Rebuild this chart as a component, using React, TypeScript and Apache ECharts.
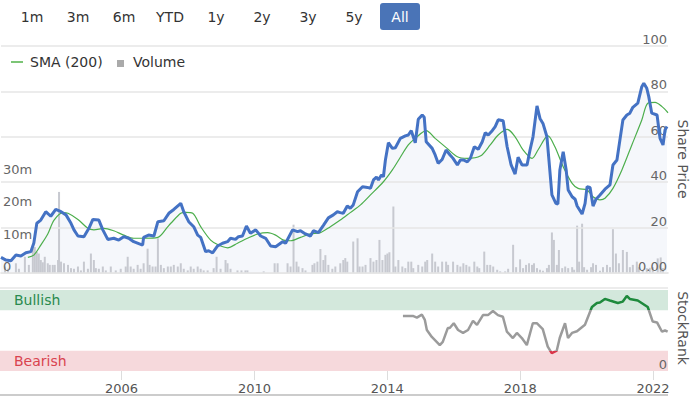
import { useEffect, useRef } from 'react';
import * as echarts from 'echarts';

const FONT = 'DejaVu Sans';

const rangeButtons = ['1m', '3m', '6m', 'YTD', '1y', '2y', '3y', '5y', 'All'];
const activeButton = 'All';
const yearTicks = [2006, 2010, 2014, 2018, 2022];
const xMin = 2002.34;
const xMax = 2022.45;

const priceYears = [
  2002.34, 2002.49, 2002.64, 2002.79, 2002.94, 2003.09, 2003.24, 2003.33, 2003.42, 2003.54,
  2003.69, 2003.84, 2003.99, 2004.15, 2004.30, 2004.45, 2004.54, 2004.66, 2004.84, 2004.99,
  2005.11, 2005.29, 2005.41, 2005.56, 2005.74, 2005.89, 2006.04, 2006.19, 2006.34, 2006.61,
  2006.64, 2006.79, 2006.95, 2007.07, 2007.25, 2007.40, 2007.55, 2007.76, 2007.85, 2008.00,
  2008.15, 2008.27, 2008.36, 2008.51, 2008.60, 2008.72, 2008.87, 2009.02, 2009.17, 2009.26,
  2009.41, 2009.50, 2009.62, 2009.74, 2009.86, 2010.02, 2010.17, 2010.32, 2010.47, 2010.62,
  2010.83, 2010.92, 2011.13, 2011.28, 2011.37, 2011.52, 2011.67, 2011.76, 2011.91, 2012.06,
  2012.21, 2012.36, 2012.48, 2012.57, 2012.66, 2012.78, 2012.87, 2012.96, 2013.09, 2013.24,
  2013.39, 2013.48, 2013.57, 2013.66, 2013.72, 2013.81, 2013.87, 2013.93, 2014.02, 2014.14,
  2014.23, 2014.38, 2014.53, 2014.62, 2014.71, 2014.83, 2014.92, 2015.04, 2015.10, 2015.16,
  2015.34, 2015.43, 2015.52, 2015.64, 2015.76, 2015.88, 2015.97, 2016.10, 2016.19, 2016.28,
  2016.40, 2016.49, 2016.61, 2016.73, 2016.85, 2016.94, 2017.03, 2017.15, 2017.24, 2017.33,
  2017.48, 2017.60, 2017.72, 2017.84, 2017.93, 2018.05, 2018.20, 2018.29, 2018.38, 2018.50,
  2018.59, 2018.68, 2018.80, 2018.86, 2018.95, 2019.07, 2019.13, 2019.19, 2019.29, 2019.38,
  2019.44, 2019.56, 2019.65, 2019.71, 2019.86, 2019.95, 2020.01, 2020.10, 2020.19, 2020.28,
  2020.40, 2020.55, 2020.70, 2020.79, 2020.91, 2021.00, 2021.09, 2021.21, 2021.30, 2021.39,
  2021.54, 2021.66, 2021.72, 2021.81, 2021.87, 2021.96, 2022.12, 2022.21, 2022.30, 2022.36,
  2022.42,
];
const priceValues = [
  6.9, 5.7, 5.4, 7.9, 7.5, 8.9, 9.4, 13.2, 21.9, 23.3,
  27, 25, 28, 27, 25.6, 21.9, 19, 16.3, 16, 19.7,
  23.6, 23.3, 19, 14.8, 15.3, 14.5, 16, 15.3, 13.8, 12.3,
  15.7, 16.7, 16.3, 22.6, 23, 26.3, 28, 30.7, 27, 22.6,
  20.4, 16.7, 15.7, 9.4, 9.8, 8.9, 11.9, 13.1, 13.8, 15.3,
  14.8, 16, 16.3, 20.7, 17.5, 19, 16.3, 15.3, 11.9, 11.6,
  13.8, 13.1, 19, 18.2, 18.6, 17.2, 16.3, 18.6, 17.8, 21,
  24.3, 25.6, 27, 26.6, 26.3, 29.5, 28.5, 30, 35.8, 38,
  37.7, 37.3, 41, 42.2, 41, 43.2, 42.4, 49.8, 57.4, 54.9,
  55.2, 59.3, 60.4, 60.8, 62.7, 57.4, 67.7, 69.6, 68.6, 57.8,
  54.9, 52, 48.3, 50, 54.2, 52, 50.5, 47.6, 49.8, 49.8,
  49, 50.5, 55.6, 54.5, 57.8, 61.8, 60.8, 62.7, 64.5, 67.5,
  67.1, 55.6, 47.6, 43.6, 51, 47.6, 47.6, 54.2, 60, 73.6,
  68.1, 65.9, 60, 49.8, 34.4, 30.7, 30.4, 45.4, 53.4, 45.4,
  36.6, 33.6, 32.5, 29.5, 26, 30.7, 38, 37.7, 29.5, 32.5,
  34.4, 36.9, 38.8, 47.6, 49.8, 58.6, 67.4, 69.6, 70.4, 73,
  74.8, 82.1, 83.6, 81.4, 77.7, 70.4, 69.6, 59.3, 56.4, 63,
  64.5,
];

const smaYears = [
  2003.15, 2003.33, 2003.54, 2003.75, 2003.94, 2004.21, 2004.36, 2004.66, 2004.96, 2005.14,
  2005.44, 2005.74, 2006.04, 2006.34, 2006.64, 2007.07, 2007.37, 2007.46, 2007.76, 2007.91,
  2008.12, 2008.36, 2008.66, 2008.90, 2009.17, 2009.47, 2009.77, 2010.08, 2010.38, 2010.62,
  2010.86, 2011.07, 2011.37, 2011.67, 2011.97, 2012.27, 2012.57, 2012.87, 2013.18, 2013.48,
  2013.87, 2014.14, 2014.38, 2014.62, 2014.83, 2015.16, 2015.43, 2015.79, 2016.10, 2016.40,
  2016.79, 2017.09, 2017.33, 2017.60, 2017.84, 2018.08, 2018.35, 2018.53, 2018.74, 2018.83,
  2019.04, 2019.29, 2019.56, 2019.74, 2020.01, 2020.19, 2020.40, 2020.55, 2020.79, 2021.06,
  2021.36, 2021.66, 2021.84, 2022.06, 2022.27, 2022.45,
];
const smaValues = [
  6.9, 7.9, 12.3, 17.2, 23.3, 26.6, 26.3, 23.6, 19.7, 19,
  19.7, 18.6, 16.7, 15.3, 15.3, 15.7, 20.4, 21.9, 26.3, 26.7,
  26.3, 20.4, 14.5, 12.3, 11.1, 13.1, 15.3, 17.2, 17.8, 16.7,
  14.5, 14.2, 15.7, 17.2, 17.8, 20.4, 23.3, 26.6, 30, 34.4,
  40.2, 45.4, 51, 56.4, 59.3, 62.7, 59.3, 54.9, 51.2, 50.5,
  51.5, 56.4, 60.8, 63.3, 60, 54.2, 50.5, 54.2, 59.3, 60.4,
  55.6, 46.8, 39.5, 37.3, 36.6, 33.6, 32.2, 32.9, 37.3, 45.4,
  56.4, 67.4, 74.8, 75.2, 73.3, 70.6,
];

// volume in millions
const volumeYears = [
  2002.46, 2002.55, 2002.79, 2002.88, 2003.06, 2003.18, 2003.30, 2003.36, 2003.42, 2003.48,
  2003.54, 2003.60, 2003.66, 2003.75, 2003.81, 2003.90, 2003.96, 2004.06, 2004.09, 2004.15,
  2004.24, 2004.36, 2004.45, 2004.54, 2004.66, 2004.75, 2004.84, 2004.96, 2005.05, 2005.14,
  2005.20, 2005.29, 2005.41, 2005.50, 2005.65, 2005.80, 2005.95, 2006.10, 2006.16, 2006.25,
  2006.34, 2006.46, 2006.55, 2006.64, 2006.76, 2006.82, 2006.91, 2007.00, 2007.07, 2007.16,
  2007.25, 2007.37, 2007.46, 2007.55, 2007.67, 2007.76, 2007.85, 2007.97, 2008.06, 2008.15,
  2008.27, 2008.36, 2008.45, 2008.57, 2008.75, 2008.84, 2008.96, 2009.11, 2009.17, 2009.26,
  2009.47, 2009.59, 2009.71, 2009.77, 2010.26, 2010.59, 2010.68, 2010.98, 2011.07, 2011.16,
  2011.25, 2011.31, 2011.43, 2011.52, 2011.73, 2011.79, 2011.88, 2011.97, 2012.06, 2012.12,
  2012.21, 2012.33, 2012.42, 2012.57, 2012.66, 2012.72, 2012.78, 2012.96, 2013.09, 2013.15,
  2013.24, 2013.33, 2013.48, 2013.57, 2013.66, 2013.75, 2013.84, 2013.93, 2013.99, 2014.05,
  2014.17, 2014.23, 2014.32, 2014.44, 2014.53, 2014.62, 2014.71, 2014.77, 2014.92, 2015.04,
  2015.13, 2015.19, 2015.34, 2015.43, 2015.52, 2015.64, 2015.76, 2015.82, 2015.97, 2016.10,
  2016.19, 2016.28, 2016.37, 2016.46, 2016.61, 2016.70, 2016.76, 2016.91, 2017.00, 2017.09,
  2017.18, 2017.30, 2017.39, 2017.54, 2017.63, 2017.78, 2017.87, 2017.99, 2018.08, 2018.17,
  2018.26, 2018.35, 2018.41, 2018.50, 2018.59, 2018.68, 2018.80, 2018.86, 2018.95, 2019.01,
  2019.10, 2019.16, 2019.26, 2019.35, 2019.44, 2019.56, 2019.62, 2019.71, 2019.77, 2019.86,
  2019.92, 2020.01, 2020.13, 2020.19, 2020.28, 2020.40, 2020.49, 2020.61, 2020.70, 2020.79,
  2020.88, 2020.97, 2021.09, 2021.21, 2021.30, 2021.39, 2021.51, 2021.57, 2021.69, 2021.81,
  2021.90, 2021.99, 2022.14, 2022.23, 2022.30,
];
const volumeValues = [
  2, 1.3, 3, 1.3, 5, 2.5, 7.6, 8, 6.5, 6,
  4, 3.3, 5, 3, 2.5, 2.5, 2.5, 4, 25, 3.5,
  3, 2.5, 1.5, 1.3, 2, 0.8, 3.5, 1.3, 6, 4,
  1.5, 1.3, 2, 0.8, 2, 0.8, 1.3, 2, 5, 2,
  1.3, 2.5, 1.3, 3, 7.5, 2.5, 2, 2, 10.7, 2.5,
  1.5, 2, 2, 2.5, 2, 3, 1.3, 0.8, 2, 1.3,
  2, 1.3, 0.8, 0.8, 1.5, 5, 1.3, 4, 3, 1.3,
  0.8, 0.8, 0.8, 0.8, 0.5, 3, 3, 3, 2, 14.9,
  3.5, 2, 1.5, 0.8, 2.5, 3, 3.5, 7.4, 4, 5.5,
  2.5, 1.3, 2, 3, 4, 4.6, 3.5, 9.7, 10.7, 2,
  2, 2.5, 4.6, 3.5, 4, 10.2, 4, 5.6, 6, 6.4,
  20.5, 2, 4, 2, 1.5, 3.5, 3.5, 1.5, 2.5, 2,
  3.5, 4, 6, 3.5, 2, 3.5, 3.5, 2.5, 3.5, 2.5,
  2, 3, 2.5, 2, 3.5, 2, 1.5, 6.6, 2.5, 2.5,
  2, 1, 0.5, 0.5, 1.3, 8.7, 1.8, 4.2, 1.5, 2.5,
  3, 2.5, 3, 1.5, 1, 0.7, 1.5, 2.5, 12.5, 10.2,
  2.5, 7.1, 1.5, 2, 1.5, 1.8, 1, 14.6, 3.5, 15.2,
  1.8, 1, 1.8, 3, 2.5, 0.7, 1.8, 2.5, 1.8, 13.5,
  6, 3, 7.1, 6.5, 1.8, 2.5, 3.5, 1.8, 1, 1.5,
  1.6, 1.8, 4.5, 4.8, 1.5,
];

const rankYears = [
  2014.47, 2014.77, 2014.89, 2015.04, 2015.13, 2015.19, 2015.34, 2015.58, 2015.67, 2015.82,
  2015.88, 2016.00, 2016.13, 2016.28, 2016.43, 2016.58, 2016.70, 2016.88, 2017.03, 2017.18,
  2017.33, 2017.48, 2017.60, 2017.78, 2017.90, 2018.05, 2018.20, 2018.38, 2018.50, 2018.68,
  2018.83, 2018.95, 2019.10, 2019.19, 2019.35, 2019.44, 2019.56, 2019.71, 2019.95, 2020.16,
  2020.31, 2020.40, 2020.55, 2020.70, 2020.94, 2021.09, 2021.21, 2021.30, 2021.54, 2021.69,
  2021.84, 2021.99, 2022.12, 2022.27, 2022.36, 2022.44,
];
const rankValues = [
  68, 68, 66, 69.5, 63, 50.6, 42, 32, 36, 53,
  53, 59, 50.6, 47, 50.6, 62, 57, 69, 69, 74,
  69, 67, 48.5, 40.7, 47, 40.7, 32, 59, 59, 51.8,
  30, 22, 25, 40.7, 59, 40.7, 47, 49, 57, 79,
  84, 84.5, 89, 87, 84, 85.7, 92.6, 89, 87, 83,
  79, 61, 60, 48.5, 50, 48.5,
];

const bullishBand = [75, 100];
const bearishBand = [0, 25];

const zip = (xs: number[], ys: number[]) => xs.map((x, i) => [x, ys[i]]);

function buildOption(): any {
  const graphic: any[] = [];
  rangeButtons.forEach((b, i) => {
    const cx = 32 + i * 46;
    if (b === activeButton) {
      graphic.push({
        type: 'rect',
        shape: { x: cx - 20, y: 3, width: 40, height: 27, r: 3 },
        style: { fill: '#4a74b7' },
      });
    }
    graphic.push({
      type: 'text',
      x: cx,
      y: 17,
      style: {
        text: b,
        fill: b === activeButton ? '#ffffff' : '#333333',
        font: `14px "${FONT}"`,
        align: 'center',
        verticalAlign: 'middle',
      },
    });
  });
  graphic.push(
    { type: 'rect', shape: { x: 11, y: 61, width: 12, height: 2 }, style: { fill: '#7cc576' } },
    {
      type: 'text', x: 30, y: 62,
      style: { text: 'SMA (200)', fill: '#333', font: `14px "${FONT}"`, verticalAlign: 'middle' },
    },
    { type: 'rect', shape: { x: 117, y: 60, width: 7, height: 7 }, style: { fill: '#aaaaaa' } },
    {
      type: 'text', x: 133, y: 62,
      style: { text: 'Volume', fill: '#333', font: `14px "${FONT}"`, verticalAlign: 'middle' },
    },
    {
      type: 'text', x: 683, y: 159, rotation: -Math.PI / 2,
      style: { text: 'Share Price', fill: '#555', font: `14px "${FONT}"`, align: 'center', verticalAlign: 'middle' },
    },
    {
      type: 'text', x: 683, y: 328, rotation: -Math.PI / 2,
      style: { text: 'StockRank', fill: '#555', font: `14px "${FONT}"`, align: 'center', verticalAlign: 'middle' },
    },
    { type: 'line', shape: { x1: 0, y1: 288, x2: 668, y2: 288 }, style: { stroke: '#e6e6e6', lineWidth: 1.5 } },
    { type: 'line', shape: { x1: 0, y1: 395, x2: 668, y2: 395 }, style: { stroke: '#cccccc', lineWidth: 2 } },
  );

  const labelStyle = { color: '#666', fontSize: 13, fontFamily: FONT };

  return {
    animation: false,
    textStyle: { fontFamily: FONT },
    grid: [
      { left: 0, right: 23, top: 46, bottom: 124 },
      { left: 0, right: 23, top: 290, bottom: 26 },
    ],
    xAxis: [
      {
        type: 'value', gridIndex: 0, min: xMin, max: xMax,
        axisLabel: { show: false }, axisTick: { show: false }, splitLine: { show: false },
        axisLine: { show: true, lineStyle: { color: '#dddddd', width: 1.5 } },
      },
      {
        type: 'value', gridIndex: 1, min: xMin, max: xMax,
        axisLine: { show: false },
        splitLine: { show: false },
        axisTick: { show: true, customValues: yearTicks, length: 9, lineStyle: { color: '#dddddd' } },
        axisLabel: {
          show: true, customValues: yearTicks, margin: 11, color: '#555', fontSize: 13, fontFamily: FONT,
          formatter: (v: number) => String(Math.round(v)),
        },
      },
    ],
    yAxis: [
      {
        type: 'value', gridIndex: 0, position: 'right', min: 0, max: 100, interval: 20, z: 3,
        axisLine: { show: false }, axisTick: { show: false },
        splitLine: { show: true, lineStyle: { color: '#e6e6e6', width: 1.5 } },
        axisLabel: {
          ...labelStyle, inside: true, margin: 1, verticalAlign: 'bottom',
          showMinLabel: true, showMaxLabel: true,
          formatter: (v: number) => (v === 0 ? '0.00' : String(v)),
        },
      },
      {
        type: 'value', gridIndex: 0, position: 'left', min: 0, max: 70, interval: 10, z: 3,
        axisLine: { show: false }, axisTick: { show: false }, splitLine: { show: false },
        axisLabel: {
          ...labelStyle, inside: true, margin: 2, verticalAlign: 'bottom', showMinLabel: true,
          formatter: (v: number) => (v > 30 ? '' : v === 0 ? '0' : `${v}m`),
        },
      },
      {
        type: 'value', gridIndex: 1, position: 'right', min: 0, max: 100, interval: 25, z: 6,
        axisLine: { show: false }, axisTick: { show: false }, splitLine: { show: false },
        axisLabel: {
          ...labelStyle, inside: true, margin: 1, verticalAlign: 'bottom', showMinLabel: true,
          formatter: (v: number) => (v === 0 ? '0' : ''),
        },
      },
    ],
    visualMap: {
      type: 'piecewise', show: false, seriesIndex: 4, dimension: 1,
      pieces: [
        { gt: 75, color: '#1e8a3c' },
        { gte: 25, lte: 75, color: '#9b9b9b' },
        { lt: 25, color: '#d9364a' },
      ],
    },
    graphic,
    series: [
      {
        name: 'PriceArea', type: 'line', xAxisIndex: 0, yAxisIndex: 0, z: 1, silent: true,
        data: zip(priceYears, priceValues), symbol: 'none',
        lineStyle: { width: 0, opacity: 0 }, areaStyle: { color: '#f1f3f9' },
      },
      {
        name: 'Volume', type: 'bar', xAxisIndex: 0, yAxisIndex: 1, z: 2,
        data: zip(volumeYears, volumeValues), barWidth: 2,
        itemStyle: { color: '#c7c9d0' },
      },
      {
        name: 'SMA (200)', type: 'line', xAxisIndex: 0, yAxisIndex: 0, z: 4,
        data: zip(smaYears, smaValues), symbol: 'none', smooth: 0.3,
        lineStyle: { color: '#4cae4c', width: 1.2 },
      },
      {
        name: 'Share Price', type: 'line', xAxisIndex: 0, yAxisIndex: 0, z: 5,
        data: zip(priceYears, priceValues), symbol: 'none',
        lineStyle: { color: '#4472c4', width: 3 },
      },
      {
        name: 'StockRank', type: 'line', xAxisIndex: 1, yAxisIndex: 2, z: 4,
        data: zip(rankYears, rankValues), symbol: 'none',
        lineStyle: { width: 2.5 },
        markArea: {
          silent: true,
          data: [
            [
              {
                yAxis: bullishBand[0], name: 'Bullish',
                itemStyle: { color: '#d3e8dc' },
                label: { show: true, position: 'insideLeft', distance: 14, color: '#2a8a4e', fontSize: 14, fontFamily: FONT },
              },
              { yAxis: bullishBand[1] },
            ],
            [
              {
                yAxis: bearishBand[0], name: 'Bearish',
                itemStyle: { color: '#f6d9dc' },
                label: { show: true, position: 'insideLeft', distance: 14, color: '#d9434e', fontSize: 14, fontFamily: FONT },
              },
              { yAxis: bearishBand[1] },
            ],
          ],
        },
      },
    ],
  };
}

export default function App() {
  const ref = useRef<HTMLDivElement>(null);
  useEffect(() => {
    document.body.style.margin = '0';
    const chart = echarts.init(ref.current!, null, { renderer: 'svg' });
    chart.setOption(buildOption());
    return () => chart.dispose();
  }, []);
  return <div ref={ref} style={{ width: 691, height: 397 }} />;
}
